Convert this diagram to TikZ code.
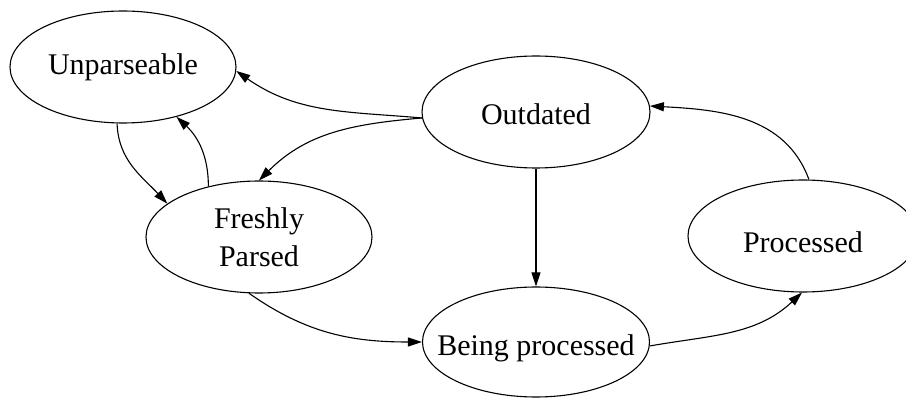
\documentclass[tikz,border=0pt]{standalone}
\usepackage{fontspec}
\setmainfont{Liberation Serif}
\usetikzlibrary{shapes.geometric,arrows.meta}
\begin{document}
\begin{tikzpicture}[x=1pt,y=-1pt,
  state/.style={ellipse,draw,line width=1.1pt,inner xsep=-45pt,inner ysep=-25pt,minimum width=226pt,minimum height=112pt,
    font=\fontsize{30}{38}\selectfont,align=center},
  edge/.style={line width=1.1pt,-{Triangle[length=14pt,width=9pt]}}]
\useasboundingbox (0,0) rectangle (906,398);
\node[state] (U) at (123,67) {Unparseable};
\node[state,minimum width=228pt] (O) at (536,112) {\raisebox{-2pt}[\height][\depth]{Outdated}};
\node[state] (F) at (259,237) {Freshly\\Parsed};
\node[state,minimum width=230pt] (P) at (803,236) {\raisebox{-6pt}[\height][\depth]{Processed}};
\node[state,minimum width=227pt,minimum height=110pt] (B) at (536,342) {\raisebox{-6pt}[\height][\depth]{Being processed}};
\draw[edge] (O.183) to[out=175,in=-35] (U.-2);
\draw[edge] (O.183) to[out=185,in=45] (F.north);
\draw[edge] (U.-96) to[out=-88,in=133] (F.160);
\draw[edge] (F.135) to[out=90,in=-43] (U.-43);
\draw[edge] (O.south) -- (B.north);
\draw[edge] (F.-100) to[out=-35,in=180] (B.west);
\draw[edge] (B.-2.5) to[out=10,in=-137] (P.-91);
\draw[edge] (P.84) to[out=110,in=-3] (O.3);
\end{tikzpicture}
\end{document}
